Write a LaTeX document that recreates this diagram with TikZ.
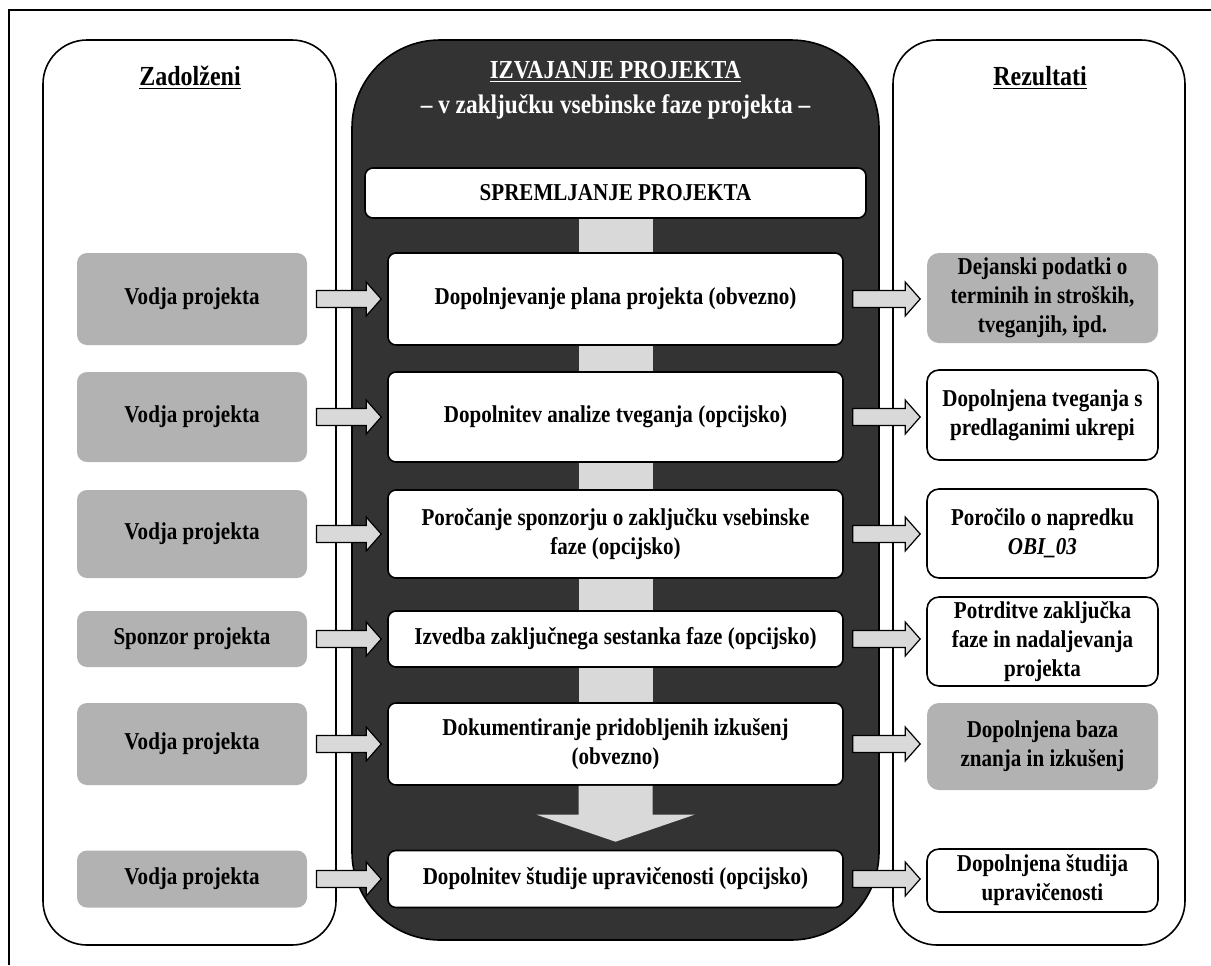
\documentclass[tikz,border=0pt]{standalone}
\usepackage{fontspec}
\setmainfont{Liberation Serif}[FakeStretch=0.87]
\usepackage{tikz}
\usetikzlibrary{calc}
\definecolor{paneldark}{RGB}{51,51,51}
\definecolor{boxgray}{RGB}{178,178,178}
\definecolor{linkgray}{RGB}{217,217,217}
\newcommand{\taskfont}{\fontsize{12.1}{14.5}\selectfont\bfseries}
\newcommand{\headfont}{\fontsize{13.8}{16}\selectfont\bfseries}
% block arrow between two nodes of one row
\newcommand{\flowarrow}[2]{%
  \filldraw[flow] let \p1=($(#1.east)+(9,0)$), \p2=($(#2.west)+(-6,0)$) in
    (\x1,\y1+4.25pt) -- (\x2-7.5pt,\y1+4.25pt) -- (\x2-7.5pt,\y1+8.5pt)
    -- (\x2,\y1) -- (\x2-7.5pt,\y1-8.5pt) -- (\x2-7.5pt,\y1-4.25pt)
    -- (\x1,\y1-4.25pt) -- cycle;}

\begin{document}
\begin{tikzpicture}[x=0.5pt, y=-0.5pt,
  lane/.style={draw, line width=0.8pt, fill=white, rounded corners=22pt,
    minimum height=452.5pt, inner sep=0pt},
  core/.style={draw, line width=0.8pt, fill=paneldark, rounded corners=44pt,
    minimum width=263.5pt, minimum height=450pt, inner sep=0pt},
  task/.style={draw, line width=0.8pt, fill=white, rounded corners=4pt,
    minimum width=227.5pt, align=center, inner sep=2pt, font=\taskfont},
  who/.style={fill=boxgray, rounded corners=5pt, minimum width=115pt,
    align=center, inner sep=2pt, font=\taskfont},
  result/.style={draw, line width=0.8pt, fill=white, rounded corners=6pt,
    minimum width=115.5pt, align=center, inner sep=2pt, font=\taskfont},
  resultgray/.style={result, draw=none, fill=boxgray},
  link/.style={fill=linkgray},
  flow/.style={draw, fill=linkgray, line width=0.6pt}]

\useasboundingbox (0,0) rectangle (1211,965);

% outer frame
\draw[line width=1pt] (9,965) -- (9,10) -- (1211,10);

% three lanes
\node[lane, minimum width=146.5pt] (left) at (189.5,492.5) {};
\node[core] (middle) at (615.5,490) {};
\node[lane, minimum width=146pt] (right) at (1039,492.5) {};

% headings
\node[font=\headfont] (hleft) at (190,78) {\underline{Zadolženi}};
\node[font=\headfont] (hright) at (1040,78) {\underline{Rezultati}};
\node[font=\fontsize{13}{15}\selectfont\bfseries, text=white] (title) at (615.5,72)
  {\underline{IZVAJANJE PROJEKTA}};
\node[font=\fontsize{13.4}{15}\selectfont\bfseries, text=white] (subtitle) at (615.5,107)
  {-- v zaključku vsebinske faze projekta --};

% middle column
\node[task, minimum width=250.5pt, minimum height=25pt] (spremljanje) at (615.5,193)
  {SPREMLJANJE PROJEKTA};
\node[task, minimum height=46pt] (plan) at (615.5,299)
  {Dopolnjevanje plana projekta (obvezno)};
\node[task, minimum height=45pt] (tveganje) at (615.5,417)
  {Dopolnitev analize tveganja (opcijsko)};
\node[task, minimum height=44pt] (porocilo) at (615.5,534)
  {Poročanje sponzorju o zaključku vsebinske\\faze (opcijsko)};
\node[task, minimum height=28pt] (sestanek) at (615.5,639)
  {Izvedba zaključnega sestanka faze (opcijsko)};
\node[task, minimum height=41pt] (izkusnje) at (615.5,744)
  {Dokumentiranje pridobljenih izkušenj\\(obvezno)};
\node[task, minimum height=28.5pt] (studija) at (615.5,879)
  {Dopolnitev študije upravičenosti (opcijsko)};

% left column
\node[who, minimum height=46pt] (resp1) at (192,299) {Vodja projekta};
\node[who, minimum height=45pt] (resp2) at (192,417) {Vodja projekta};
\node[who, minimum height=44pt] (resp3) at (192,534) {Vodja projekta};
\node[who, minimum height=28pt] (resp4) at (192,639) {Sponzor projekta};
\node[who, minimum height=41pt] (resp5) at (192,744) {Vodja projekta};
\node[who, minimum height=28.5pt] (resp6) at (192,879) {Vodja projekta};

% right column
\node[resultgray, minimum height=45pt] (res1) at (1042.5,298)
  {Dejanski podatki o\\terminih in stroških,\\tveganjih, ipd.};
\node[result, minimum height=45pt] (res2) at (1042.5,415)
  {Dopolnjena tveganja s\\predlaganimi ukrepi};
\node[result, minimum height=44.5pt] (res3) at (1042.5,533.5)
  {Poročilo o napredku\\\textit{OBI\_03}};
\node[result, minimum height=44.5pt] (res4) at (1042.5,641.5)
  {Potrditve zaključka\\faze in nadaljevanja\\projekta};
\node[resultgray, minimum height=43.5pt] (res5) at (1042.5,746.5)
  {Dopolnjena baza\\znanja in izkušenj};
\node[result, minimum height=31.5pt] (res6) at (1042.5,880.5)
  {Dopolnjena študija\\upravičenosti};

% links in the middle column
\foreach \a/\b in {spremljanje/plan, plan/tveganje, tveganje/porocilo,
    porocilo/sestanek, sestanek/izkusnje}
  \fill[link] ($(\a.south)+(-37,0)$) rectangle ($(\b.north)+(37,0)$);
\fill[link] ($(izkusnje.south)+(-37,0)$) -- ($(studija.north)+(-37,-35)$)
  -- ($(studija.north)+(-79,-35)$) -- ($(studija.north)+(0,-8)$)
  -- ($(studija.north)+(79,-35)$) -- ($(studija.north)+(37,-35)$)
  -- ($(izkusnje.south)+(37,0)$) -- cycle;

% block arrows
\foreach \l/\c/\r in {resp1/plan/res1, resp2/tveganje/res2, resp3/porocilo/res3,
    resp4/sestanek/res4, resp5/izkusnje/res5, resp6/studija/res6}{
  \flowarrow{\l}{\c}
  \flowarrow{\c}{\r}
}

\end{tikzpicture}
\end{document}
